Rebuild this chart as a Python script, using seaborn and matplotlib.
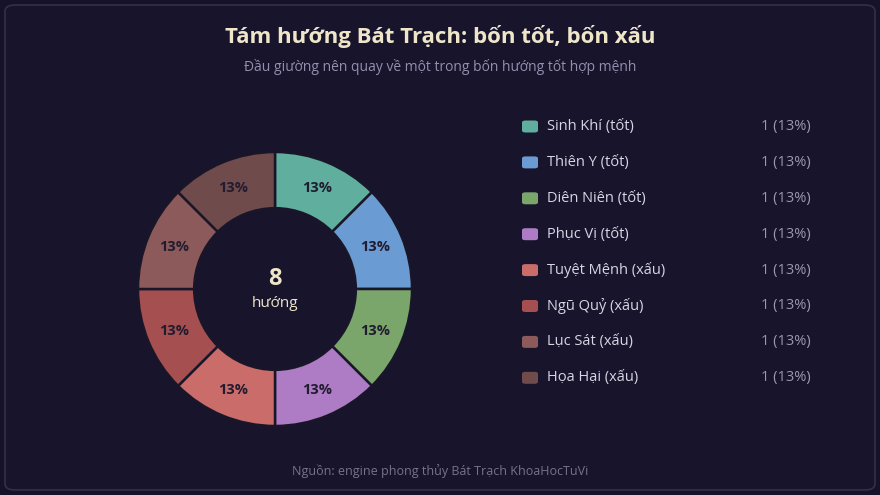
import matplotlib
matplotlib.use("Agg")
import matplotlib.pyplot as plt
import seaborn as sns
from matplotlib.patches import FancyBboxPatch

# data
directions = ["Sinh Khí (tốt)", "Thiên Y (tốt)", "Diên Niên (tốt)", "Phục Vị (tốt)",
              "Tuyệt Mệnh (xấu)", "Ngũ Quỷ (xấu)", "Lục Sát (xấu)", "Họa Hại (xấu)"]
counts = [1, 1, 1, 1, 1, 1, 1, 1]
colors = ["#5fae9e", "#6a9bd2", "#7aa66b", "#ae7cc4",
          "#c96c6a", "#a54f50", "#8c5a5a", "#704b4b"]

title = "Tám hướng Bát Trạch: bốn tốt, bốn xấu"
subtitle = "Đầu giường nên quay về một trong bốn hướng tốt hợp mệnh"
source = "Nguồn: engine phong thủy Bát Trạch KhoaHocTuVi"

sns.set_theme(style="dark")
plt.rcParams["font.family"] = ["Open Sans", "Noto Sans", "DejaVu Sans"]

BG = "#15122a"
PANEL = "#17142c"
CREAM = "#efe6c9"

W, H = 880, 495
fig = plt.figure(figsize=(W / 100, H / 100), dpi=100)
fig.patch.set_facecolor(BG)

panel = FancyBboxPatch((5 / W, 5 / H), 870 / W, 485 / H,
                       boxstyle="round,pad=0,rounding_size=0.012",
                       transform=fig.transFigure, facecolor=PANEL,
                       edgecolor="#34304c", linewidth=1.2, zorder=-5)
fig.patches.append(panel)

fig.text(0.5, 1 - 37 / H, title, ha="center", va="center",
         fontsize=16, fontweight="bold", color=CREAM)
fig.text(0.5, 1 - 67 / H, subtitle, ha="center", va="center",
         fontsize=10, color="#948fac")
fig.text(0.5, 1 - 471 / H, source, ha="center", va="center",
         fontsize=9, color="#77728e")

# donut
cx, cy, r = 275, 289, 137
ax = fig.add_axes([(cx - r) / W, (H - cy - r) / H, 2 * r / W, 2 * r / H], zorder=2)
ax.set_facecolor("none")
ax.patch.set_alpha(0)
palette = sns.color_palette(colors)
total = sum(counts)
wedges, _, autotexts = ax.pie(
    counts, colors=palette, startangle=90, counterclock=False,
    autopct=lambda p: f"{int(p + 0.5)}%", pctdistance=0.795,
    wedgeprops=dict(width=0.41, edgecolor="#1a1629", linewidth=1.8),
    textprops=dict(fontsize=10.5, fontweight="bold", color="#221c30"))
ax.set_xlim(-1.0, 1.0)
ax.set_ylim(-1.0, 1.0)
ax.set_aspect("equal")
ax.axis("off")
ax.text(0, 0.075, str(total), ha="center", va="center", fontsize=17,
        fontweight="bold", color=CREAM)
ax.text(0, -0.105, "hướng", ha="center", va="center", fontsize=11, color=CREAM)

# legend
row0, step = 126.5, 35.9
for i, (name, n, col) in enumerate(zip(directions, counts, colors)):
    y = 1 - (row0 + i * step) / H
    sw = FancyBboxPatch((522 / W, y - 6 / H), 16 / W, 12 / H,
                        boxstyle="round,pad=0,rounding_size=0.004",
                        transform=fig.transFigure, facecolor=col,
                        edgecolor="none", zorder=2)
    fig.patches.append(sw)
    fig.text(547 / W, y, name, ha="left", va="center", fontsize=10.5, color="#d9d5e4")
    fig.text(811 / W, y, f"{n} ({int(n / total * 100 + 0.5)}%)", ha="right",
             va="center", fontsize=10.5, color="#9c98ae")

fig.savefig("out.png", dpi=100, facecolor=BG)
